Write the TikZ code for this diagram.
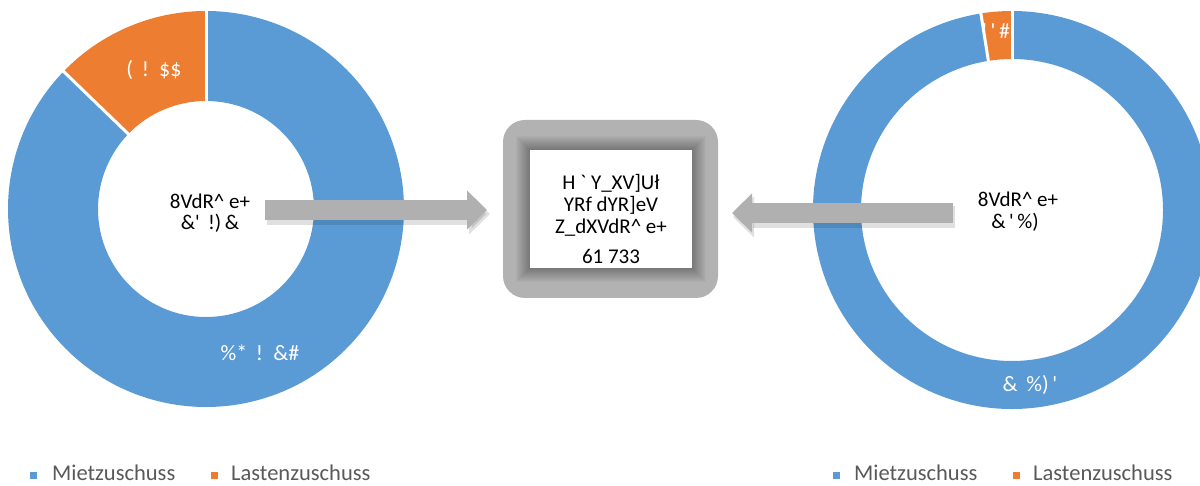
\documentclass[tikz,border=0pt]{standalone}
\usepackage{fontspec}
\setmainfont{Carlito}
\newfontfamily\gf[Ligatures=TeXOff]{Carlito}
\usetikzlibrary{arrows.meta}
\definecolor{cblue}{HTML}{5B9BD5}
\definecolor{corange}{HTML}{ED7D31}
\definecolor{agray}{HTML}{B0B0B0}
\definecolor{bgray}{HTML}{B2B2B2}
\definecolor{legtext}{HTML}{595959}
\tikzset{
  lbl/.style={font=\gf\fontsize{22}{26}\selectfont, text=white, inner sep=0pt},
  ctr/.style={font=\gf\fontsize{21}{24}\selectfont, text=black, inner sep=0pt, align=center},
  leg/.style={font=\fontsize{22.5}{26}\selectfont, text=legtext, inner sep=0pt, anchor=base west},
  sep/.style={draw=white, line width=3pt},
  bigarrow/.style={draw=agray, line width=20pt, -{Triangle[length=20pt,width=38pt]}},
  arrowshadow/.style={draw=black, opacity=0.12, line width=22pt, -{Triangle[length=21pt,width=40pt]}}
}
\begin{document}
\begin{tikzpicture}[x=1pt,y=1pt]
\useasboundingbox (0,0) rectangle (1200,485);
% left donut
\begin{scope}[shift={(206,276)}]
  \fill[corange] (90:198) arc[start angle=90,end angle=136,radius=198] -- (136:108) arc[start angle=136,end angle=90,radius=108] -- cycle;
  \fill[cblue] (136:198) arc[start angle=136,end angle=450,radius=198] -- (90:108) arc[start angle=450,end angle=136,radius=108] -- cycle;
  \draw[sep] (90:106) -- (90:200);
  \draw[sep] (136:106) -- (136:200);
\end{scope}
\coordinate (lcen) at (206,276);
% right donut
\begin{scope}[shift={(1012,275)}]
  \fill[corange] (90:199) arc[start angle=90,end angle=99,radius=199] -- (99:151) arc[start angle=99,end angle=90,radius=151] -- cycle;
  \fill[cblue] (99:199) arc[start angle=99,end angle=450,radius=199] -- (90:151) arc[start angle=450,end angle=99,radius=151] -- cycle;
  \draw[sep] (90:149) -- (90:201);
  \draw[sep] (99:149) -- (99:201);
\end{scope}
\coordinate (rcen) at (1012,275);
% slice labels
\node[lbl] (l1) at (154,415) {(\, !\, \$\$};
\node[lbl] (l2) at (260,132) {\%*\, !\, \&\#};
\node[lbl] (r1) at (996,454) {'\,'\,\#};
\node[lbl] (r2) at (1030,100) {\&\, \%)\,'};
% center texts
\node[ctr] (lc1) at (210,284) {8VdR\char94{} e+};
\node[ctr] (lc2) at (210,262) {\&'\, !)\,\&};
\node[ctr] (rc1) at (1018,286) {8VdR\char94{} e+};
\node[ctr] (rc2) at (1015,263) {\&\,'\,\%)};
% box
\fill[bgray, rounded corners=22pt] (503,187) rectangle (718,365);
\foreach \w in {2,4,...,28} {
  \draw[black, opacity=0.022, line width=\w pt] (530,217) rectangle (692,335);
}
\node[fill=white, minimum width=162pt, minimum height=118pt, inner sep=0pt] (box) at (611,276) {};
\node[ctr] (b1) at (611,302) {H ` Y\_XV]Uł};
\node[ctr] (b2) at (611,280) {YRf dYR]eV};
\node[ctr] (b3) at (611,257) {Z\_dXVdR\char94{} e+};
\node[ctr] (b4) at (611,229) {61 733};
% arrows
\coordinate (la) at (265,275);
\coordinate (lt) at (487,275);
\coordinate (ra) at (953,272);
\coordinate (rt) at (732,272);
\draw[arrowshadow] ([shift={(2,-4)}]la) -- ([shift={(3,-4)}]lt);
\draw[bigarrow] (la) -- (lt);
\draw[arrowshadow] ([shift={(2,-4)}]ra) -- ([shift={(1,-4)}]rt);
\draw[bigarrow] (ra) -- (rt);
% legends
\fill[cblue] (30,6) rectangle (37,13);
\node[leg] (lg1) at (52,4.5) {Mietzuschuss};
\fill[corange] (211,6) rectangle (218,13);
\node[leg] (lg2) at (231,4.5) {Lastenzuschuss};
\fill[cblue] (833,6) rectangle (840,13);
\node[leg] (lg3) at (854,4.5) {Mietzuschuss};
\fill[corange] (1013,6) rectangle (1020,13);
\node[leg] (lg4) at (1033,4.5) {Lastenzuschuss};
\end{tikzpicture}
\end{document}
